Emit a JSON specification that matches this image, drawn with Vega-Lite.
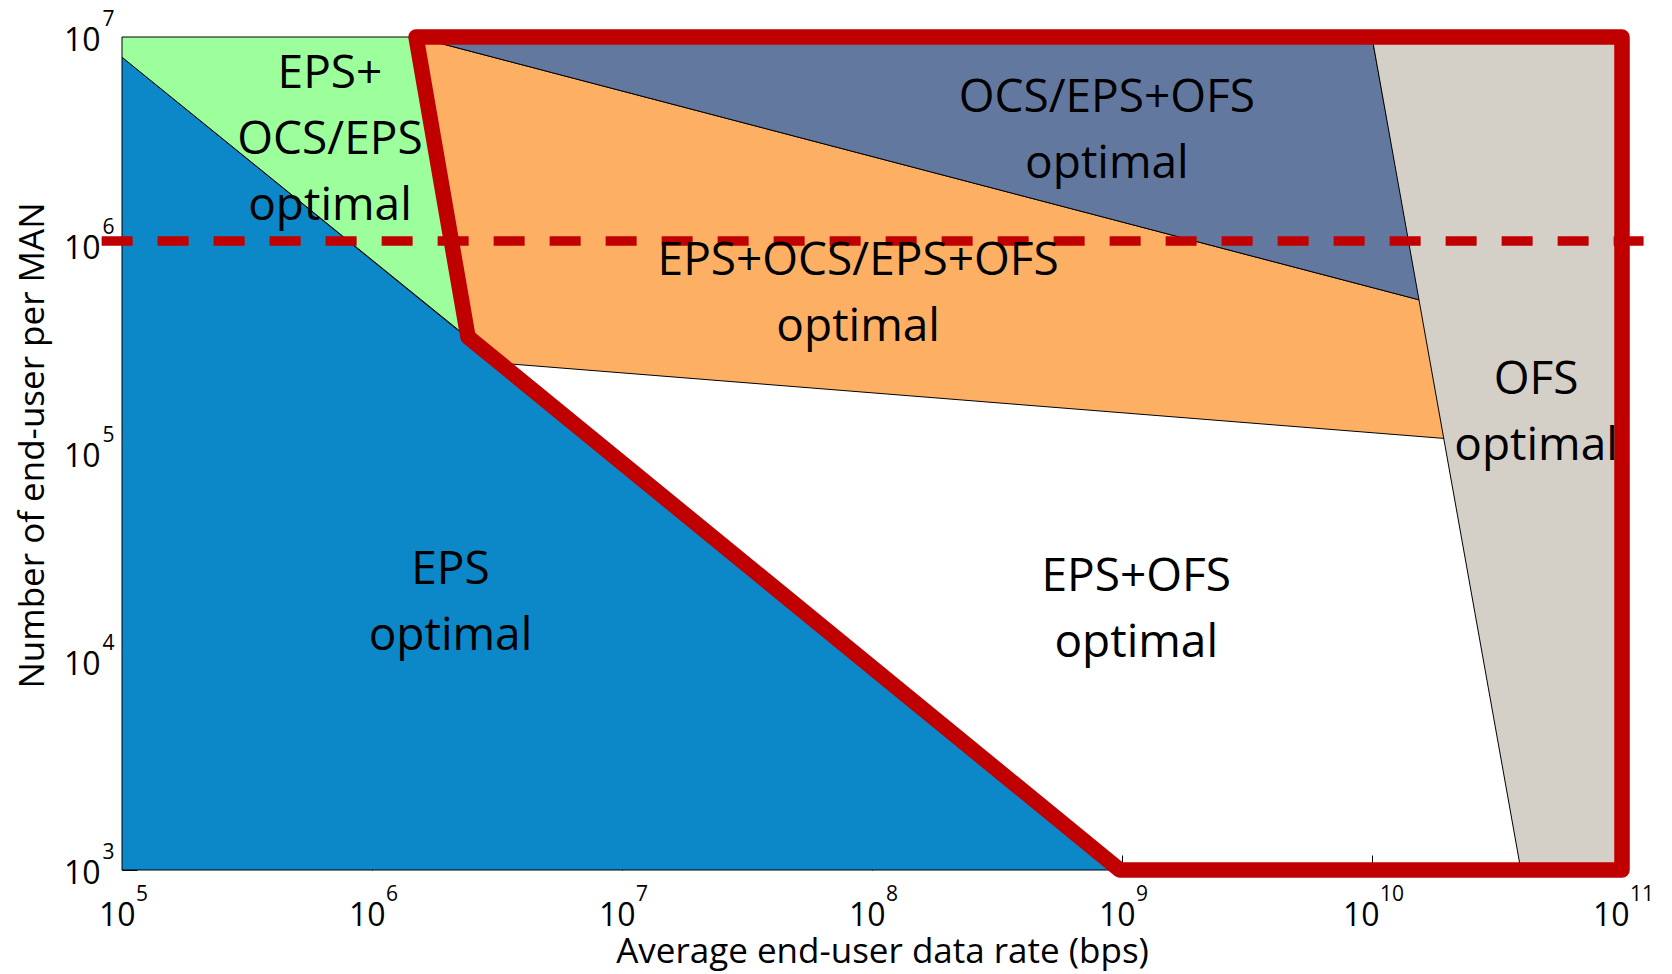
{
  "$schema": "https://vega.github.io/schema/vega-lite/v6.json",
  "width": 1500,
  "height": 833,
  "autosize": {"type": "none"},
  "padding": {"left": 122, "top": 37, "right": 50, "bottom": 104},
  "background": "white",
  "config": {"view": {"stroke": null}, "axis": {"grid": false}},
  "datasets": {
    "shapes": [
      {"shape": "EPS", "idx": 1, "rate": 1e5, "users": 1e3},
      {"shape": "EPS", "idx": 2, "rate": 1e5, "users": 8e6},
      {"shape": "EPS", "idx": 3, "rate": 1e9, "users": 1e3},
      {"shape": "EPS+OCS/EPS", "idx": 1, "rate": 1e5, "users": 8e6},
      {"shape": "EPS+OCS/EPS", "idx": 2, "rate": 1e5, "users": 1e7},
      {"shape": "EPS+OCS/EPS", "idx": 3, "rate": 1.5e6, "users": 1e7},
      {"shape": "EPS+OCS/EPS", "idx": 4, "rate": 2.42e6, "users": 3.6e5},
      {"shape": "EPS+OCS/EPS+OFS", "idx": 1, "rate": 1.5e6, "users": 1e7},
      {"shape": "EPS+OCS/EPS+OFS", "idx": 2, "rate": 2.42e6, "users": 3.6e5},
      {"shape": "EPS+OCS/EPS+OFS", "idx": 3, "rate": 3.2e6, "users": 2.72e5},
      {"shape": "EPS+OCS/EPS+OFS", "idx": 4, "rate": 1.96e10, "users": 1.18e5},
      {"shape": "EPS+OCS/EPS+OFS", "idx": 5, "rate": 1.56e10, "users": 5.45e5},
      {"shape": "OCS/EPS+OFS", "idx": 1, "rate": 1.5e6, "users": 1e7},
      {"shape": "OCS/EPS+OFS", "idx": 2, "rate": 1e10, "users": 1e7},
      {"shape": "OCS/EPS+OFS", "idx": 3, "rate": 1.56e10, "users": 5.45e5},
      {"shape": "OFS", "idx": 1, "rate": 1e10, "users": 1e7},
      {"shape": "OFS", "idx": 2, "rate": 1e11, "users": 1e7},
      {"shape": "OFS", "idx": 3, "rate": 1e11, "users": 1e3},
      {"shape": "OFS", "idx": 4, "rate": 3.94e10, "users": 1e3},
      {"shape": "boundary", "idx": 1, "rate": 1.5e6, "users": 1e7},
      {"shape": "boundary", "idx": 2, "rate": 2.42e6, "users": 3.63e5},
      {"shape": "boundary", "idx": 3, "rate": 9.8e8, "users": 1e3},
      {"shape": "boundary", "idx": 4, "rate": 1e11, "users": 1e3},
      {"shape": "boundary", "idx": 5, "rate": 1e11, "users": 1e7},
      {"shape": "threshold", "idx": 1, "rate": 8.29e4, "users": 1.049e6},
      {"shape": "threshold", "idx": 2, "rate": 1.22e11, "users": 1.049e6}
    ],
    "labels": [
      {"label": "EPS+\nOCS/EPS\noptimal", "rate": 6.79e5, "users": 6.64e6},
      {"label": "OCS/EPS+OFS\noptimal", "rate": 8.7e8, "users": 5.09e6},
      {"label": "EPS+OCS/EPS+OFS\noptimal", "rate": 8.8e7, "users": 8.41e5},
      {"label": "OFS\noptimal", "rate": 4.53e10, "users": 2.25e5},
      {"label": "EPS\noptimal", "rate": 2.06e6, "users": 2.76e4},
      {"label": "EPS+OFS\noptimal", "rate": 1.14e9, "users": 2.56e4}
    ]
  },
  "layer": [
    {
      "data": {"name": "shapes"},
      "encoding": {
        "x": {
          "field": "rate",
          "type": "quantitative",
          "scale": {"type": "log", "domain": [1e5, 1e11], "nice": false},
          "axis": {
            "title": "Average end-user data rate (bps)",
            "titleFont": "Open Sans",
            "titleFontSize": 35,
            "titleFontWeight": "normal",
            "titleColor": "black",
            "titleX": 760,
            "titleY": 92,
            "titleBaseline": "alphabetic",
            "titleAlign": "center",
            "values": [1e5, 1e6, 1e7, 1e8, 1e9, 1e10, 1e11],
            "labelExpr": "'10'",
            "labelFont": "Open Sans",
            "labelFontSize": 32,
            "labelColor": "black",
            "labelAlign": "right",
            "labelBaseline": "alphabetic",
            "labelPadding": 70,
            "labelOffset": {"condition": {"test": "datum.value >= 1e10", "value": 7}, "value": 13},
            "labelFlush": false,
            "labelOverlap": false,
            "labelBound": false,
            "ticks": true,
            "tickSize": -15,
            "tickColor": "black",
            "tickWidth": 1,
            "domain": false,
            "grid": false
          }
        },
        "y": {
          "field": "users",
          "type": "quantitative",
          "scale": {"type": "log", "domain": [1e3, 1e7], "nice": false},
          "axis": {
            "title": "Number of end-user per MAN",
            "titleFont": "Open Sans",
            "titleFontSize": 35,
            "titleFontWeight": "normal",
            "titleColor": "black",
            "titleAngle": -90,
            "titleX": -79,
            "titleY": 408,
            "titleBaseline": "alphabetic",
            "titleAlign": "center",
            "values": [1e3, 1e4, 1e5, 1e6, 1e7],
            "labelExpr": "'10'",
            "labelFont": "Open Sans",
            "labelFontSize": 32,
            "labelColor": "black",
            "labelAlign": "right",
            "labelBaseline": "alphabetic",
            "labelPadding": 37,
            "labelOffset": 13,
            "labelFlush": false,
            "labelOverlap": false,
            "labelBound": false,
            "ticks": true,
            "tickSize": -15,
            "tickColor": "black",
            "tickWidth": 1,
            "domain": false,
            "grid": false
          }
        },
        "order": {"field": "idx", "type": "quantitative"}
      },
      "layer": [
        {
          "transform": [{"filter": "datum.shape === 'EPS'"}],
          "mark": {"type": "line", "interpolate": "linear-closed", "fill": "#0C87C8", "stroke": "black", "strokeWidth": 1}
        },
        {
          "transform": [{"filter": "datum.shape === 'EPS+OCS/EPS'"}],
          "mark": {"type": "line", "interpolate": "linear-closed", "fill": "#9CFF9C", "stroke": "black", "strokeWidth": 1}
        },
        {
          "transform": [{"filter": "datum.shape === 'EPS+OCS/EPS+OFS'"}],
          "mark": {"type": "line", "interpolate": "linear-closed", "fill": "#FDB064", "stroke": "black", "strokeWidth": 1}
        },
        {
          "transform": [{"filter": "datum.shape === 'OCS/EPS+OFS'"}],
          "mark": {"type": "line", "interpolate": "linear-closed", "fill": "#63789F", "stroke": "black", "strokeWidth": 1}
        },
        {
          "transform": [{"filter": "datum.shape === 'OFS'"}],
          "mark": {"type": "line", "interpolate": "linear-closed", "fill": "#D4CFC7", "stroke": "black", "strokeWidth": 1}
        },
        {
          "transform": [{"filter": "datum.shape === 'boundary'"}],
          "mark": {"type": "line", "interpolate": "linear-closed", "stroke": "#C00000", "strokeWidth": 15.5, "strokeJoin": "round", "clip": false}
        },
        {
          "transform": [{"filter": "datum.shape === 'threshold'"}],
          "mark": {"type": "line", "stroke": "#C00000", "strokeWidth": 9.5, "strokeDash": [31, 25], "strokeCap": "butt", "clip": false}
        }
      ]
    },
    {
      "data": {"name": "labels"},
      "mark": {"type": "text", "font": "Open Sans", "fontSize": 46, "lineBreak": "\n", "lineHeight": 66, "align": "center", "baseline": "middle", "color": "black"},
      "encoding": {
        "x": {
          "field": "rate",
          "type": "quantitative",
          "scale": {"type": "log", "domain": [1e5, 1e11], "nice": false},
          "axis": {
            "title": null,
            "orient": "bottom",
            "values": [1e5, 1e6, 1e7, 1e8, 1e9, 1e10, 1e11],
            "labelExpr": "format(log(datum.value)/LN10, '.0f')",
            "labelFont": "Open Sans",
            "labelFontSize": 21,
            "labelColor": "black",
            "labelAlign": "left",
            "labelBaseline": "alphabetic",
            "labelPadding": 30,
            "labelOffset": {"condition": {"test": "datum.value >= 1e10", "value": 7.5}, "value": 13.5},
            "labelFlush": false,
            "labelOverlap": false,
            "labelBound": false,
            "ticks": false,
            "domain": false,
            "grid": false
          }
        },
        "y": {
          "field": "users",
          "type": "quantitative",
          "scale": {"type": "log", "domain": [1e3, 1e7], "nice": false},
          "axis": {
            "title": null,
            "orient": "left",
            "values": [1e3, 1e4, 1e5, 1e6, 1e7],
            "labelExpr": "format(log(datum.value)/LN10, '.0f')",
            "labelFont": "Open Sans",
            "labelFontSize": 21,
            "labelColor": "black",
            "labelAlign": "left",
            "labelBaseline": "alphabetic",
            "labelPadding": 20,
            "labelOffset": -12,
            "labelFlush": false,
            "labelOverlap": false,
            "labelBound": false,
            "ticks": false,
            "domain": false,
            "grid": false
          }
        },
        "text": {"field": "label", "type": "nominal"}
      }
    }
  ],
  "resolve": {"axis": {"x": "independent", "y": "independent"}}
}
